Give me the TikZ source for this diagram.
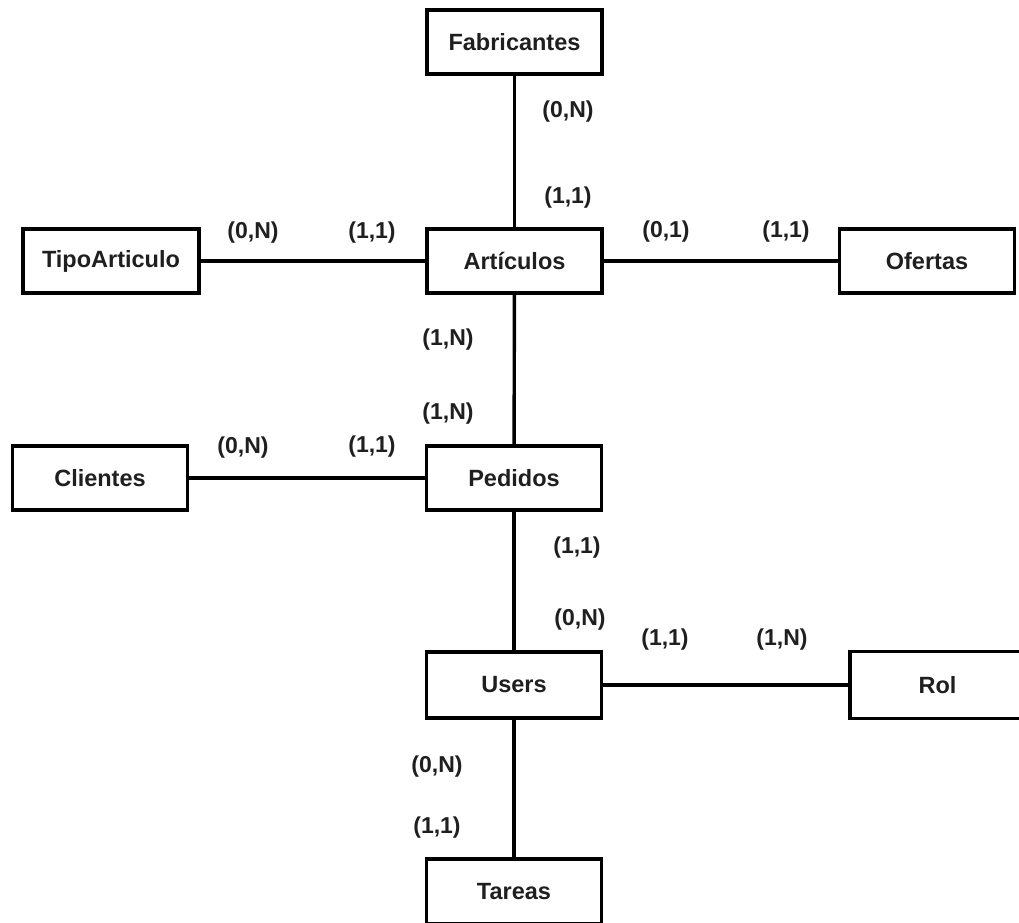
\documentclass[tikz,border=0pt]{standalone}
\usepackage{fontspec}
\setmainfont{Liberation Sans}
\begin{document}
\begin{tikzpicture}[x=1pt,y=-1pt,
  entity/.style={draw=black, line width=3.2pt, minimum width=175pt, minimum height=64pt,
    inner sep=0pt, font=\bfseries\fontsize{23.5}{27}\selectfont, text=black!88},
  card/.style={inner sep=0pt, font=\bfseries\fontsize{23}{27}\selectfont, text=black!88},
  rel/.style={line width=3.4pt, black}]
\clip (0,0) rectangle (1019,922);
\fill[white] (0,0) rectangle (1019,922);

% entities
\node[entity] (fab)    at (514.5, 42)  {Fabricantes};
\node[entity] (art)    at (514.5, 261) {Artículos};
\node[entity, minimum width=176pt] (tipo) at (111, 261) {TipoArticulo};
\node[entity] (ofe)    at (927, 261)   {Ofertas};
\node[entity] (cli)    at (100, 478)   {Clientes};
\node[entity] (ped)    at (514, 478)   {Pedidos};
\node[entity, minimum height=66pt] (users) at (514, 685) {Users};
\node[entity, minimum height=67pt] (rol)   at (937.5, 685) {Rol};
\node[entity, minimum height=65pt] (tar)   at (514, 891.5) {Tareas};

% relationships
\draw[rel] (fab) -- (art);
\draw[rel] (tipo) -- (art);
\draw[rel] (art) -- (ofe);
\draw[rel] (art) -- (ped);
\draw[rel] (cli) -- (ped);
\draw[rel] (ped) -- (users);
\draw[rel] (users) -- (rol);
\draw[rel] (users) -- (tar);

% cardinalities
\node[card] (c1)  at (568, 112) {(0,N)};
\node[card] (c2)  at (568, 198) {(1,1)};
\node[card] (c3)  at (253, 233) {(0,N)};
\node[card] (c4)  at (372, 233) {(1,1)};
\node[card] (c5)  at (666, 232) {(0,1)};
\node[card] (c6)  at (786, 232) {(1,1)};
\node[card] (c7)  at (448, 340) {(1,N)};
\node[card] (c8)  at (448, 414) {(1,N)};
\node[card] (c9)  at (243, 448) {(0,N)};
\node[card] (c10) at (372, 447) {(1,1)};
\node[card] (c11) at (577, 548) {(1,1)};
\node[card] (c12) at (580, 620) {(0,N)};
\node[card] (c13) at (665, 640) {(1,1)};
\node[card] (c14) at (782, 640) {(1,N)};
\node[card] (c15) at (437, 767) {(0,N)};
\node[card] (c16) at (437, 828) {(1,1)};
\end{tikzpicture}
\end{document}
